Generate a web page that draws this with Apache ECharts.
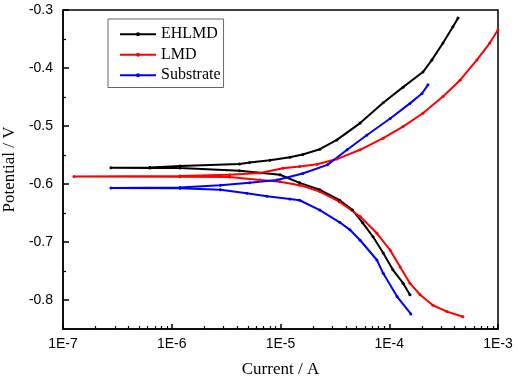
<!DOCTYPE html>
<html>
<head>
<meta charset="UTF-8">
<title>Tafel</title>
<script src="https://cdn.jsdelivr.net/npm/echarts@6/dist/echarts.min.js"></script>
<style>
  html, body { margin: 0; padding: 0; background: #fff; }
  #main { width: 517px; height: 380px; }
</style>
</head>
<body>
<div id="main"></div>
<script>
// EHLMD: cathodic end -> Ecorr tip -> anodic end
var ehlmdCurrent = [1.55e-4, 1.34e-4, 1.08e-4, 8.8e-5, 7.1e-5, 5.7e-5, 4.6e-5, 3.5e-5, 2.3e-5, 1.5e-5, 9.9e-6, 4.2e-6, 1.19e-6, 6.3e-7, 2.76e-7,
  6.3e-7, 1.19e-6, 4.2e-6, 5.2e-6, 8.0e-6, 1.22e-5, 1.6e-5, 2.3e-5, 3.3e-5, 5.4e-5, 8.8e-5, 1.34e-4, 2.04e-4, 2.47e-4, 3.12e-4, 3.85e-4, 4.29e-4];
var ehlmdPotential = [-0.791, -0.771, -0.748, -0.719, -0.691, -0.667, -0.645, -0.628, -0.610, -0.598, -0.584, -0.577, -0.5725, -0.5725, -0.572,
  -0.5715, -0.569, -0.5655, -0.563, -0.559, -0.554, -0.549, -0.540, -0.524, -0.495, -0.460, -0.433, -0.407, -0.386, -0.357, -0.329, -0.314];

var lmdCurrent = [4.76e-4, 3.4e-4, 2.52e-4, 1.92e-4, 1.55e-4, 1.26e-4, 1.02e-4, 7.7e-5, 5.4e-5, 3.5e-5, 2.3e-5, 1.5e-5, 9.9e-6, 6.5e-6, 3.4e-6, 1.19e-6, 1.26e-7,
  1.19e-6, 3.4e-6, 6.5e-6, 1.05e-5, 1.5e-5, 2.17e-5, 3.3e-5, 5.4e-5, 8.8e-5, 1.34e-4, 2.04e-4, 3.12e-4, 4.48e-4, 6.4e-4, 8.4e-4, 1.0e-3];
var lmdPotential = [-0.829, -0.820, -0.809, -0.791, -0.771, -0.743, -0.714, -0.685, -0.656, -0.631, -0.613, -0.602, -0.596, -0.593, -0.588, -0.5875, -0.587,
  -0.586, -0.584, -0.581, -0.573, -0.570, -0.566, -0.557, -0.541, -0.521, -0.501, -0.478, -0.449, -0.421, -0.386, -0.357, -0.334];

var substrateCurrent = [1.58e-4, 1.18e-4, 8.8e-5, 7.7e-5, 5.4e-5, 4.35e-5, 3.5e-5, 2.3e-5, 1.5e-5, 1.22e-5, 7.5e-6, 4.9e-6, 2.8e-6, 1.19e-6, 2.76e-7,
  1.19e-6, 2.8e-6, 5.2e-6, 9.3e-6, 1.6e-5, 2.7e-5, 4.1e-5, 6.2e-5, 1.02e-4, 1.55e-4, 2.0e-4, 2.27e-4];
var substratePotential = [-0.824, -0.794, -0.754, -0.731, -0.697, -0.679, -0.666, -0.645, -0.628, -0.626, -0.621, -0.616, -0.610, -0.6075, -0.607,
  -0.606, -0.602, -0.598, -0.593, -0.582, -0.567, -0.541, -0.516, -0.487, -0.461, -0.444, -0.429];

var seriesNames = ['EHLMD', 'LMD', 'Substrate'];
var seriesColors = ['#000000', '#ff0000', '#0000ff'];
var xTickLabels = ['1E-7', '1E-6', '1E-5', '1E-4', '1E-3'];
var yTicks = [-0.8, -0.7, -0.6, -0.5, -0.4, -0.3];
var yMinorTicks = [-0.75, -0.65, -0.55, -0.45, -0.35];

function pairs(xs, ys) {
  var out = [];
  for (var i = 0; i < xs.length; i++) out.push([xs[i], ys[i]]);
  return out;
}

// minor ticks of the log axis at 2..9 x each decade, as exponents for a helper value axis
var minorExp = [];
for (var d = -7; d < -3; d++) {
  for (var k = 2; k < 10; k++) minorExp.push(d + Math.log10(k));
}

var curves = [
  pairs(ehlmdCurrent, ehlmdPotential),
  pairs(lmdCurrent, lmdPotential),
  pairs(substrateCurrent, substratePotential)
];

var plotHeight = 380 - 10 - 51;
var plotWidth = 517 - 63 - 19;

var myChart = echarts.init(document.getElementById('main'));

var option = {
  animation: false,
  grid: {
    left: 63, right: 19, top: 10, bottom: 51,
    outerBoundsMode: 'none',
    containLabel: false,
    show: true, borderColor: '#000', borderWidth: 1.5, backgroundColor: 'transparent'
  },
  legend: {
    orient: 'vertical',
    left: 108, top: 19,
    padding: [7, 3, 4, 11],
    itemGap: 4,
    itemWidth: 36, itemHeight: 5,
    borderColor: '#666', borderWidth: 1,
    textStyle: { fontFamily: 'Liberation Serif', fontSize: 16, color: '#000', lineHeight: 16.5 },
    data: seriesNames
  },
  xAxis: [{
    type: 'log',
    logBase: 10,
    min: 1e-7, max: 1e-3,
    name: 'Current / A',
    nameLocation: 'middle',
    nameGap: 32,
    nameTextStyle: { fontFamily: 'Liberation Serif', fontSize: 17, color: '#000' },
    axisLine: { lineStyle: { color: '#000', width: 1.5 } },
    axisTick: { inside: true, length: 5, lineStyle: { color: '#000', width: 1.5 } },
    axisLabel: {
      margin: 8,
      fontFamily: 'Liberation Sans', fontSize: 14, color: '#000',
      formatter: function (v) {
        var i = Math.round(Math.log10(v)) + 7;
        return xTickLabels[i] || '';
      }
    },
    splitLine: { show: false }
  }, {
    // helper axis in exponent units, moved down onto the bottom edge, carrying the 2..9 minor ticks
    type: 'value',
    min: -7, max: -3,
    position: 'top',
    offset: -plotHeight,
    axisLine: { show: false },
    axisLabel: { show: false },
    axisTick: { inside: false, length: 3, customValues: minorExp, lineStyle: { color: '#000', width: 1.2 } },
    splitLine: { show: false }
  }],
  yAxis: [{
    type: 'value',
    min: -0.85, max: -0.3,
    name: 'Potential / V',
    nameLocation: 'middle',
    nameGap: 42,
    nameTextStyle: { fontFamily: 'Liberation Serif', fontSize: 17, color: '#000' },
    axisLine: { lineStyle: { color: '#000', width: 1.5 } },
    axisTick: { inside: true, length: 6, customValues: yTicks, lineStyle: { color: '#000', width: 1.5 } },
    axisLabel: {
      margin: 10,
      customValues: yTicks,
      fontFamily: 'Liberation Sans', fontSize: 14, color: '#000',
      formatter: function (v) { return v.toFixed(1); }
    },
    splitLine: { show: false }
  }, {
    // helper axis moved onto the left edge for the short minor ticks
    type: 'value',
    min: -0.85, max: -0.3,
    position: 'right',
    offset: -plotWidth,
    axisLine: { show: false },
    axisLabel: { show: false },
    axisTick: { inside: false, length: 3, customValues: yMinorTicks, lineStyle: { color: '#000', width: 1.2 } },
    splitLine: { show: false }
  }],
  series: seriesNames.map(function (name, i) {
    return {
      name: name,
      type: 'line',
      data: curves[i],
      symbol: 'circle',
      symbolSize: 3,
      showSymbol: true,
      lineStyle: { color: seriesColors[i], width: 2 },
      itemStyle: { color: seriesColors[i] }
    };
  })
};

myChart.setOption(option);
</script>
</body>
</html>
